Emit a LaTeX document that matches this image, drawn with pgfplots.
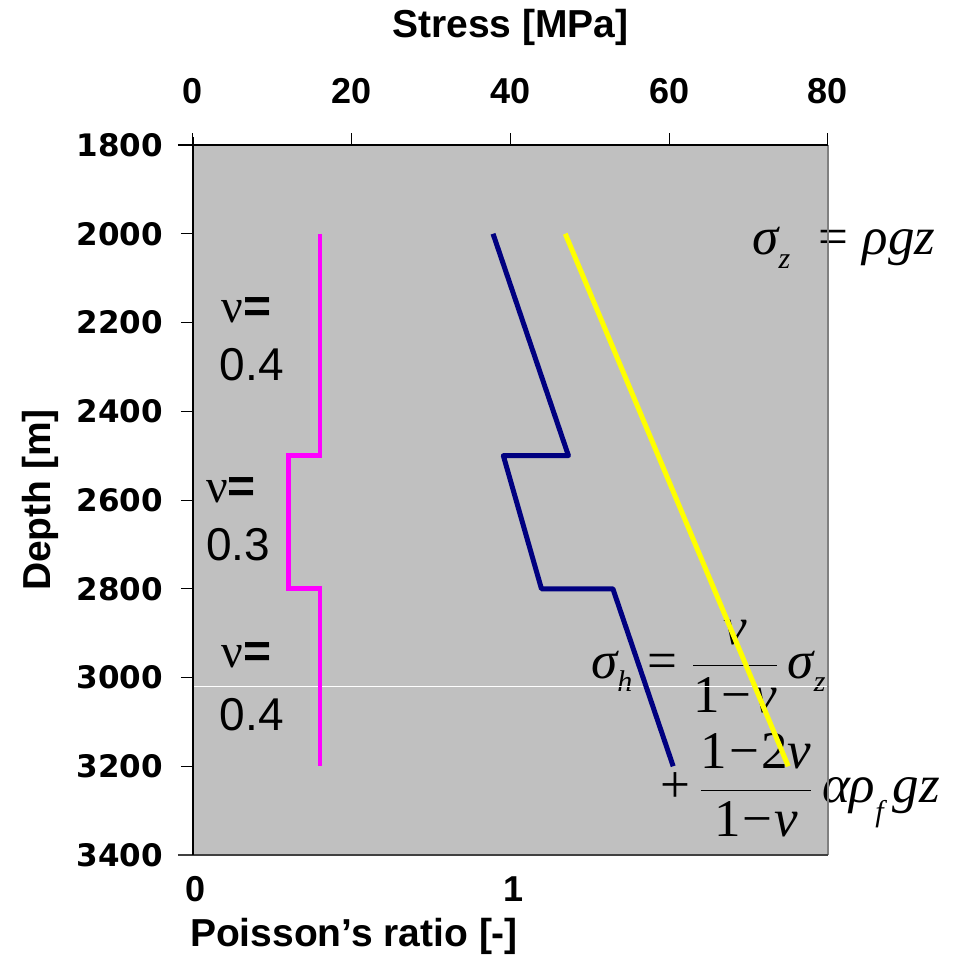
\documentclass[border=0pt]{standalone}
\usepackage{pgfplots}
\pgfplotsset{compat=1.18}
\usepackage{fontspec}
\setmainfont{Liberation Sans}
\newfontfamily\widefont{DejaVu Sans}
\newfontfamily\tnr{Liberation Serif}
\definecolor{bg}{RGB}{192,192,192}
\definecolor{navyline}{RGB}{0,0,128}
\definecolor{magline}{RGB}{255,0,255}
\definecolor{yelline}{RGB}{255,255,0}
% equation-editor look: Times italic letters inside math layout
\newcommand\iv[1]{\mbox{\tnr\itshape #1}}
\newcommand\rv[1]{\mbox{\tnr #1}}
\newcommand\sub[1]{\raisebox{-3pt}{\tnr\itshape\fontsize{15}{15}\selectfont #1}}

\begin{document}
\begin{tikzpicture}
\path[use as bounding box] (-96.5pt,-55.5pt) rectangle (381.5pt,427.5pt);
% stress axis (top) and depth axis (left)
\begin{axis}[
    name=ax,
    width=317.5pt, height=355pt, scale only axis,
    xmin=0, xmax=80, ymin=1800, ymax=3400, y dir=reverse,
    xtick={0,20,...,80}, ytick={1800,2000,...,3400},
    xtick pos=top, xticklabel pos=top, ytick pos=left,
    tick align=outside, major tick length=6pt,
    tick style={black, line width=0.5pt},
    axis line style={draw=none},
    axis background/.style={fill=bg},
    clip=false,
    /pgf/number format/1000 sep={},
    /pgf/number format/assume math mode=true,
    xticklabel style={font=\bfseries\fontsize{18}{20}\selectfont, anchor=center, yshift=21pt},
    yticklabel style={font=\widefont\bfseries\fontsize{15.5}{18}\selectfont, anchor=east, xshift=-5.5pt},
    xlabel={Stress [MPa]},
    xlabel style={font=\bfseries\fontsize{19.5}{22}\selectfont, at={(axis description cs:0.5,1.165)}, anchor=center},
    ylabel={Depth [m]},
    ylabel style={font=\bfseries\fontsize{19.5}{22}\selectfont, at={(axis description cs:-0.241,0.5)}, anchor=center},
]
% text first, so that the lines run over it
\node[font=\fontsize{26.5}{30}\selectfont] at (axis cs:82.0,2032) {$\iv{σ}_{\sub{z}}\;\;\rv{=}\;\iv{ρgz}$};
\node[font=\fontsize{26.5}{30}\selectfont] at (axis cs:65.0,2975) {$\displaystyle\iv{σ}_{\sub{h}}\;\rv{=}\;\frac{\iv{ν}}{\rv{1\kern1pt−\kern1pt}\iv{ν}}\,\iv{σ}_{\sub{z}}$};
\node[font=\fontsize{26.5}{30}\selectfont] at (axis cs:76.5,3243) {$\displaystyle\rv{+}\,\frac{\rv{1\kern1pt−\kern1pt2}\iv{ν}}{\rv{1\kern1pt−\kern1pt}\iv{ν}}\,\iv{αρ}_{\sub{f}}\,\iv{gz}$};

\node[font=\fontsize{24}{28}\selectfont] at (axis cs:6.7,2172) {{\tnr ν}\textbf{=}};
\node[font=\fontsize{23}{26}\selectfont] at (axis cs:7.4,2296) {0.4};
\node[font=\fontsize{24}{28}\selectfont] at (axis cs:4.8,2578) {{\tnr ν}\textbf{=}};
\node[font=\fontsize{23}{26}\selectfont] at (axis cs:5.7,2701) {0.3};
\node[font=\fontsize{24}{28}\selectfont] at (axis cs:6.7,2949) {{\tnr ν}\textbf{=}};
\node[font=\fontsize{23}{26}\selectfont] at (axis cs:7.4,3084) {0.4};

\addplot[white, line width=0.5pt] coordinates {(0,3021) (80,3021)};
% vertical stress
\addplot[yelline, line width=2.5pt] coordinates {(46.9,2000) (75.0,3200)};
% horizontal stress
\addplot[navyline, line width=2.5pt, line join=round] coordinates {
    (37.8,2000) (47.3,2500) (39.1,2500) (43.9,2800) (52.9,2800) (60.5,3200)};
\end{axis}

% Poisson's ratio axis (bottom)
\begin{axis}[
    at={(ax.south west)}, anchor=south west,
    width=317.5pt, height=355pt, scale only axis,
    xmin=0, xmax=2, ymin=1800, ymax=3400, y dir=reverse,
    axis x line*=bottom, axis y line=none,
    x axis line style={draw=none},
    xtick={0,1}, major tick length=0pt,
    clip=false,
    /pgf/number format/assume math mode=true,
    xticklabel style={font=\bfseries\fontsize{18}{20}\selectfont, anchor=center, yshift=-17pt, xshift=1.5pt},
    xlabel={Poisson’s ratio [-]},
    xlabel style={font=\bfseries\fontsize{19.5}{22}\selectfont, at={(axis description cs:0,-0.114)}, anchor=west, xshift=-5pt},
]
\addplot[magline, line width=2.4pt] coordinates {
    (0.4,2000) (0.4,2500) (0.3,2500) (0.3,2800) (0.4,2800) (0.4,3200)};
\end{axis}

% frame
\draw[gray, line width=0.6pt] (ax.north east) -- (ax.south east);
\draw[black!75, line width=0.6pt] ([xshift=-7.5pt]ax.south west) -- (ax.south east);
\draw[black, line width=0.6pt] ([xshift=-7.5pt]ax.north west) -- (ax.north east);
\draw[black, line width=0.6pt] ([yshift=4pt]ax.north west) -- (ax.south west);
\end{tikzpicture}
\end{document}
